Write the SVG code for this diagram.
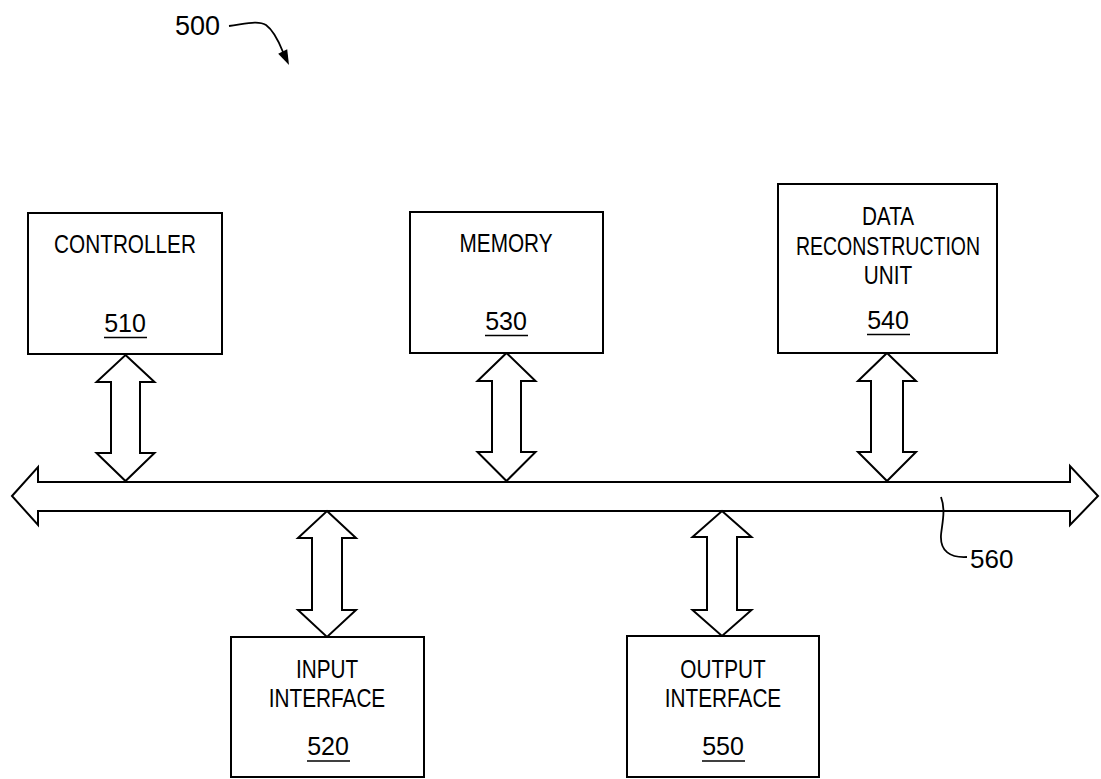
<svg xmlns="http://www.w3.org/2000/svg" width="1101" height="779" viewBox="0 0 1101 779">
<style>
.box{fill:#fff;stroke:#000;stroke-width:2}
.arr{fill:#fff;stroke:#000;stroke-width:2;stroke-linejoin:miter}
.lbl{font-family:"Liberation Sans",Arial,sans-serif;font-size:25px;fill:#000;text-anchor:middle}
.num{font-family:"Liberation Sans",Arial,sans-serif;font-size:25px;fill:#000;text-anchor:middle}
.ul{stroke:#000;stroke-width:1.6}
.ref{font-family:"Liberation Sans",Arial,sans-serif;font-size:27px;fill:#000}
.lead{fill:none;stroke:#000;stroke-width:1.8}
</style>
<rect width="1101" height="779" fill="#fff"/>
<g id="label-500">
<text class="ref" x="175" y="35">500</text>
<path class="lead" d="M229,26 C245,24 258,20 266,25 C273,30 279,42 283,52"/>
<polygon points="289,65 287.2,49.3 278.2,53.7" fill="#000"/>
</g>
<g id="connectors">
<path id="bus-560" class="arr" d="M12,496 L38,467 L38,482 L1070,482 L1070,466 L1098,496 L1070,525 L1070,511 L38,511 L38,525 Z"/>
<path class="arr" d="M125.5,355 L154.5,382 L140,382 L140,453 L154.5,453 L125.5,481 L96.5,453 L111,453 L111,382 L96.5,382 Z"/>
<path class="arr" d="M506.5,353 L535.5,381 L521,381 L521,452 L535.5,452 L506.5,481 L477.5,452 L492,452 L492,381 L477.5,381 Z"/>
<path class="arr" d="M887,353 L916,381 L903,381 L903,452 L916,452 L887,481 L858,452 L871,452 L871,381 L858,381 Z"/>
<path class="arr" d="M327,511 L356,538 L342,538 L342,610 L356,610 L327,637 L298,610 L312,610 L312,538 L298,538 Z"/>
<path class="arr" d="M722,511 L751.5,537 L737,537 L737,610 L751.5,610 L722,636 L692.5,610 L707,610 L707,537 L692.5,537 Z"/>
<path class="lead" d="M941,497 C946,510 942,524 941,535 C940,551 950,558 967,557"/>
<text class="ref" x="970" y="568" style="font-size:26px">560</text>
</g>
<g id="node-510">
<rect class="box" x="28" y="213" width="194" height="141"/>
<text class="lbl" transform="translate(125,253) scale(0.83,1)">CONTROLLER</text>
<text class="num" x="125" y="332">510</text>
<line class="ul" x1="104" y1="337.5" x2="147" y2="337.5"/>
</g>
<g id="node-530">
<rect class="box" x="410" y="212" width="193" height="141"/>
<text class="lbl" transform="translate(506,252) scale(0.83,1)">MEMORY</text>
<text class="num" x="506" y="330">530</text>
<line class="ul" x1="485" y1="335.5" x2="528" y2="335.5"/>
</g>
<g id="node-540">
<rect class="box" x="778" y="184" width="219" height="169"/>
<text class="lbl" transform="translate(888,225) scale(0.83,1)">DATA</text>
<text class="lbl" transform="translate(888,255) scale(0.78,1)">RECONSTRUCTION</text>
<text class="lbl" transform="translate(888,284) scale(0.83,1)">UNIT</text>
<text class="num" x="888" y="329">540</text>
<line class="ul" x1="867" y1="334.5" x2="910" y2="334.5"/>
</g>
<g id="node-520">
<rect class="box" x="231" y="637" width="193" height="140"/>
<text class="lbl" transform="translate(327,678) scale(0.83,1)">INPUT</text>
<text class="lbl" transform="translate(327,707) scale(0.83,1)">INTERFACE</text>
<text class="num" x="328" y="755">520</text>
<line class="ul" x1="307" y1="761" x2="350" y2="761"/>
</g>
<g id="node-550">
<rect class="box" x="627" y="636" width="192" height="141"/>
<text class="lbl" transform="translate(723,678) scale(0.83,1)">OUTPUT</text>
<text class="lbl" transform="translate(723,707) scale(0.83,1)">INTERFACE</text>
<text class="num" x="723" y="755">550</text>
<line class="ul" x1="702" y1="761" x2="745" y2="761"/>
</g>
</svg>
